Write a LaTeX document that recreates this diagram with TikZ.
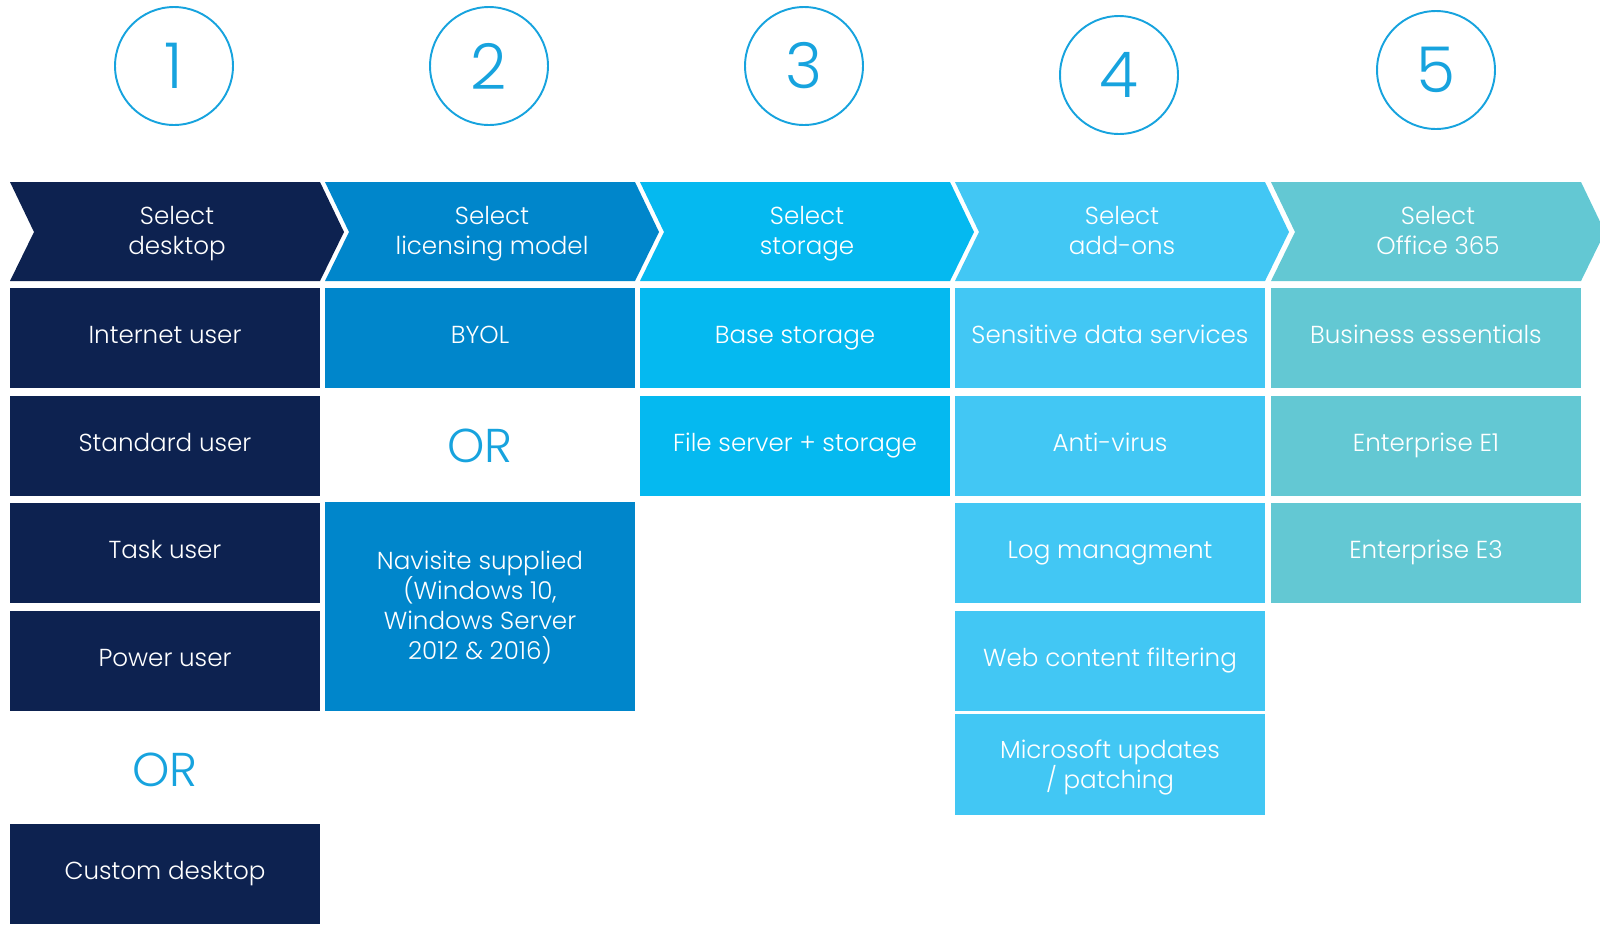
\documentclass[tikz,border=0pt]{standalone}
\usepackage{fontspec}
\IfFontExistsTF{Poppins Light}{\setmainfont{Poppins Light}}{\setmainfont{Poppins}}
\usepackage{tikz}
\usetikzlibrary{positioning}
\definecolor{navy}{HTML}{0D2250}
\definecolor{licblue}{HTML}{0086CB}
\definecolor{stoblue}{HTML}{05B9F0}
\definecolor{addblue}{HTML}{42C7F4}
\definecolor{offteal}{HTML}{63C8D3}
\definecolor{ringblue}{HTML}{17A3DE}
% chevron: #1 left x, #2 colour, #3 node name, #4 text
\newcommand{\stepchevron}[4]{%
  \fill[#2] (#1,182) -- ++(310,0) -- ++(24,50) -- ++(-24,49) -- ++(-310,0) -- ++(24,-49) -- cycle;
  \node[head] (#3) at (#1+167,235) {#4};
}

\begin{document}
\begin{tikzpicture}[x=0.02cm,y=-0.02cm,
    cell/.style={minimum width=6.2cm,minimum height=2cm,inner sep=0pt,outer sep=0pt,text=white,align=center,
      font=\fontsize{14}{17}\selectfont,execute at begin node=\strut,execute at end node=\strut},
    head/.style={text=white,align=center,font=\fontsize{14}{17}\selectfont,
      execute at begin node=\strut,execute at end node=\strut},
    num/.style={circle,draw=ringblue,line width=1.1pt,minimum size=2.36cm,text=ringblue,font=\fontsize{36}{40}\selectfont},
    ortext/.style={text=ringblue,font=\fontsize{27}{30}\selectfont}]
  \useasboundingbox (0,0) rectangle (1600,924);
  % numbers
  \node[num] (n1) at (174,66) {1};
  \node[num] (n2) at (489,66) {2};
  \node[num] (n3) at (804,66) {3};
  \node[num] (n4) at (1119,75) {4};
  \node[num] (n5) at (1436,70) {5};
  % steps
  \begin{scope}
    \clip (0,0) rectangle (1600,924);
    \stepchevron{10}{navy}{desk}{Select\\desktop}
    \stepchevron{325}{licblue}{lic}{Select\\licensing model}
    \stepchevron{640}{stoblue}{sto}{Select\\storage}
    \stepchevron{955}{addblue}{add}{Select\\add-ons}
    \stepchevron{1271}{offteal}{off}{Select\\Office 365}
  \end{scope}
  % desktop
  \node[cell,fill=navy] (internet) at (165,338) {Internet user};
  \node[cell,fill=navy] (standard) at (165,446) {Standard user};
  \node[cell,fill=navy] (task) at (165,552.5) {Task user};
  \node[cell,fill=navy] (power) at (165,660.5) {Power user};
  \node[ortext] (or1) at (165,770) {OR};
  \node[cell,fill=navy] (custom) at (165,874) {Custom desktop};
  % licensing
  \node[cell,fill=licblue] (byol) at (480,338) {BYOL};
  \node[ortext] (or2) at (480,446) {OR};
  \fill[licblue] (325,502) rectangle (635,711);
  \node[cell,minimum height=0pt] (navisite) at (480,610) {Navisite supplied\\(Windows 10,\\Windows Server\\2012 \& 2016)};
  % storage
  \node[cell,fill=stoblue] (base) at (795,338) {Base storage};
  \node[cell,fill=stoblue] (fileserver) at (795,446) {File server + storage};
  % add-ons
  \node[cell,fill=addblue] (sensitive) at (1110,338) {Sensitive data services};
  \node[cell,fill=addblue] (antivirus) at (1110,446) {Anti-virus};
  \node[cell,fill=addblue] (logmgmt) at (1110,552.5) {Log managment};
  \node[cell,fill=addblue] (webfilter) at (1110,660.5) {Web content filtering};
  \fill[addblue] (955,714) rectangle (1265,815);
  \node[cell,minimum height=0pt] (updates) at (1110,769) {Microsoft updates\\/ patching};
  % office 365
  \node[cell,fill=offteal] (business) at (1426,338) {Business essentials};
  \node[cell,fill=offteal] (e1) at (1426,446) {Enterprise E1};
  \node[cell,fill=offteal] (e3) at (1426,552.5) {Enterprise E3};
\end{tikzpicture}
\end{document}
